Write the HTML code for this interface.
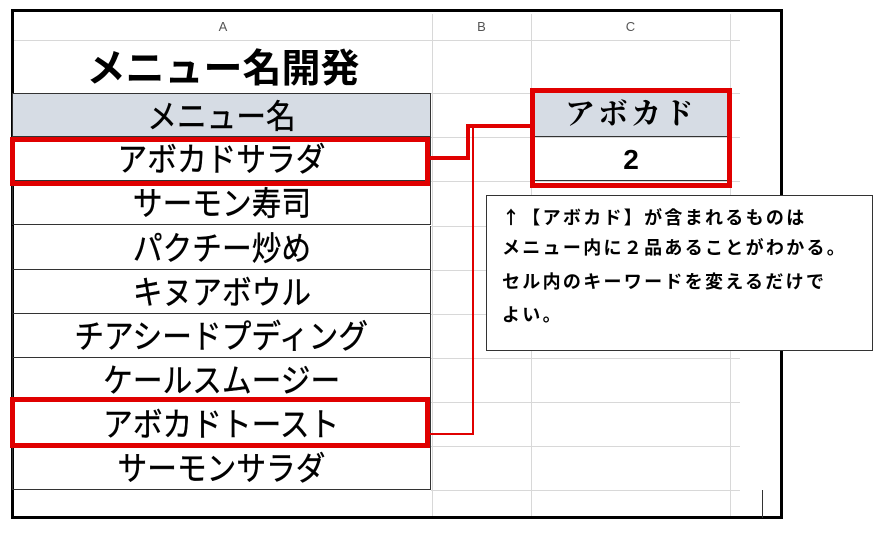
<!DOCTYPE html>
<html><head><meta charset="utf-8"><style>
body{margin:0;width:886px;height:539px;background:#fff;position:relative;overflow:hidden;font-family:"Liberation Sans","Noto Sans CJK JP",sans-serif}
div{position:absolute;box-sizing:border-box}
.h{height:1px;background:#d8d8d8}
.v{width:1px;background:#d8d8d8}
.c{left:12px;width:419px;height:44px;border:1px solid #333;border-top:none;text-align:center;color:#000}
.c span{display:inline-block;font-size:33px;line-height:46px;transform:scaleX(0.9);-webkit-text-stroke:0.4px #000}
.r{border:5px solid #e00000}
.t{font-family:"Noto Sans CJK JP",sans-serif;font-weight:bold;font-size:18px;letter-spacing:2.3px;left:502px;white-space:nowrap}
</style></head><body>
<div style="left:11px;top:9px;width:772px;height:510px;border:3px solid #000"></div>
<div class="h" style="left:14px;top:40px;width:726px"></div>
<div class="h" style="left:431px;top:93px;width:309px"></div>
<div class="h" style="left:431px;top:137px;width:309px"></div>
<div class="h" style="left:431px;top:181px;width:309px"></div>
<div class="h" style="left:431px;top:226px;width:55px"></div>
<div class="h" style="left:431px;top:270px;width:55px"></div>
<div class="h" style="left:431px;top:314px;width:55px"></div>
<div class="h" style="left:431px;top:358px;width:309px"></div>
<div class="h" style="left:431px;top:402px;width:309px"></div>
<div class="h" style="left:431px;top:446px;width:309px"></div>
<div class="h" style="left:431px;top:490px;width:309px"></div>
<div class="v" style="left:432px;top:14px;height:502px"></div>
<div class="v" style="left:531px;top:14px;height:502px"></div>
<div class="v" style="left:730px;top:14px;height:502px"></div>
<div style="left:762px;top:490px;width:1px;height:28px;background:#333"></div>
<div style="left:14px;top:14px;width:418px;height:26px;text-align:center;font-size:13px;line-height:26px;color:#555">A</div>
<div style="left:432px;top:14px;width:99px;height:26px;text-align:center;font-size:13px;line-height:26px;color:#555">B</div>
<div style="left:531px;top:14px;width:199px;height:26px;text-align:center;font-size:13px;line-height:26px;color:#555">C</div>
<div style="left:14px;top:44px;width:418px;height:50px;text-align:center;font-size:39px;font-weight:bold;line-height:52px">メニュー名開発</div>
<div class="c" style="top:93px;border-top:1px solid #333;background:#d6dce4"><span>メニュー名</span></div>
<div class="c" style="top:137px"><span>アボカドサラダ</span></div>
<div class="c" style="top:181px"><span>サーモン寿司</span></div>
<div class="c" style="top:226px"><span>パクチー炒め</span></div>
<div class="c" style="top:270px"><span>キヌアボウル</span></div>
<div class="c" style="top:314px"><span>チアシードプディング</span></div>
<div class="c" style="top:358px"><span>ケールスムージー</span></div>
<div class="c" style="top:402px"><span>アボカドトースト</span></div>
<div class="c" style="top:446px"><span>サーモンサラダ</span></div>
<div style="left:533px;top:93px;width:196px;height:44px;background:#d6dce4;border-bottom:1px solid #333;text-align:center;font-family:'Liberation Serif','Noto Serif CJK SC',serif;font-weight:bold;font-size:30px;line-height:44px;letter-spacing:3px">アボカド</div>
<div style="left:533px;top:137px;width:196px;height:44px;border-bottom:1px solid #333;text-align:center;font-weight:bold;font-size:28px;line-height:46px">2</div>
<div class="r" style="left:10px;top:137px;width:420px;height:49px"></div>
<div class="r" style="left:530px;top:88px;width:202px;height:100px"></div>
<div class="r" style="left:10px;top:397px;width:420px;height:51px"></div>
<div style="left:428px;top:156px;width:42px;height:4px;background:#e00000"></div>
<div style="left:466px;top:124px;width:4px;height:36px;background:#e00000"></div>
<div style="left:466px;top:124px;width:66px;height:4px;background:#e00000"></div>
<div style="left:472px;top:126px;width:2px;height:309px;background:#e00000"></div>
<div style="left:428px;top:433px;width:46px;height:2px;background:#e00000"></div>
<div style="left:486px;top:195px;width:387px;height:156px;border:1px solid #333;background:#fff"></div>
<div class="t" style="top:204px">↑【アボカド】が含まれるものは</div>
<div class="t" style="top:234px">メニュー内に２品あることがわかる。</div>
<div class="t" style="top:268px">セル内のキーワードを変えるだけで</div>
<div class="t" style="top:301px">よい。</div>
</body></html>
